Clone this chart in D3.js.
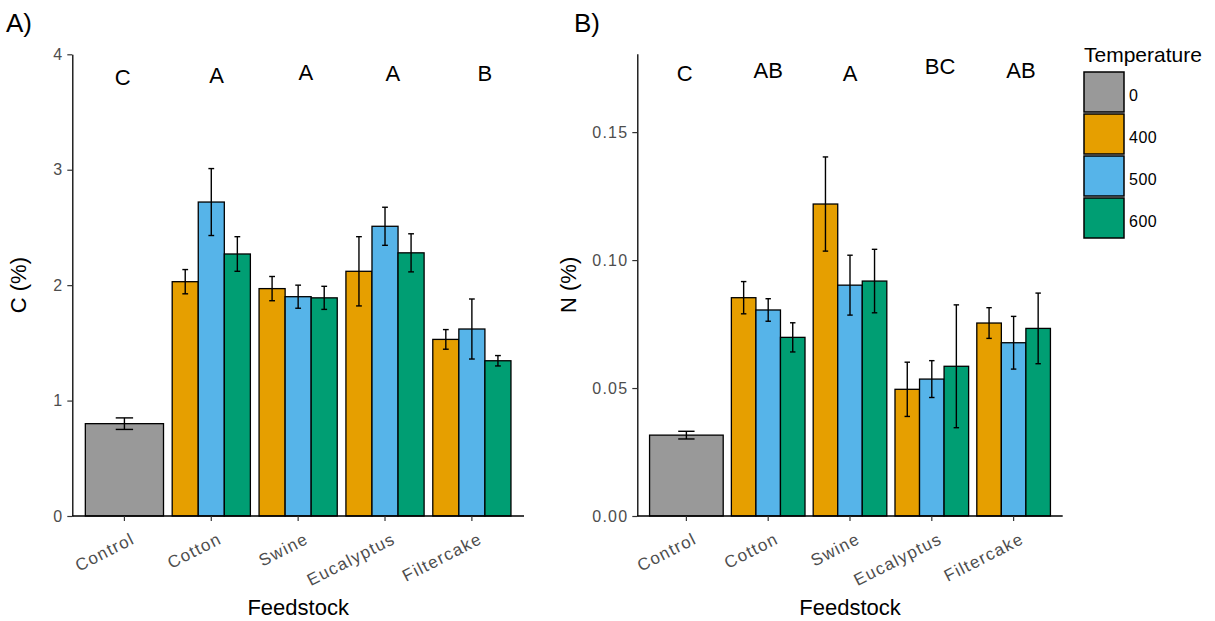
<!DOCTYPE html>
<html>
<head>
<meta charset="utf-8">
<script src="https://cdn.jsdelivr.net/npm/d3@7"></script>
<style>
  html, body { margin: 0; padding: 0; background: #fff; }
  svg { display: block; font-family: "Liberation Sans", Arial, sans-serif; }
</style>
</head>
<body>
<svg id="chart" width="1215" height="621"></svg>
<script>
// Feedstock categories and temperature groups
const feedstocks = ["Control", "Cotton", "Swine", "Eucalyptus", "Filtercake"];
const temperatures = ["0", "400", "500", "600"];

// One row per bar: feedstock, pyrolysis temperature
const rowFeedstock = ["Control",
  "Cotton", "Cotton", "Cotton",
  "Swine", "Swine", "Swine",
  "Eucalyptus", "Eucalyptus", "Eucalyptus",
  "Filtercake", "Filtercake", "Filtercake"];
const rowTemperature = ["0",
  "400", "500", "600",
  "400", "500", "600",
  "400", "500", "600",
  "400", "500", "600"];

// Carbon content (%) mean and standard error
const carbonMean = [0.80, 2.03, 2.72, 2.27, 1.97, 1.90, 1.89, 2.12, 2.51, 2.28, 1.53, 1.62, 1.345];
const carbonSE   = [0.05, 0.105, 0.29, 0.15, 0.105, 0.10, 0.10, 0.30, 0.165, 0.165, 0.085, 0.26, 0.045];

// Nitrogen content (%) mean and standard error
const nitrogenMean = [0.0316, 0.0853, 0.0805, 0.0698, 0.1219, 0.0902, 0.0918, 0.0495, 0.0535, 0.0585, 0.0754, 0.0677, 0.0733];
const nitrogenSE   = [0.0015, 0.0063, 0.0044, 0.0057, 0.0184, 0.0117, 0.0124, 0.0106, 0.0072, 0.0240, 0.0060, 0.0103, 0.0138];

// Compact letter display (Tukey groups) with their x positions on the category axis
const lettersC = ["C", "A", "A", "A", "B"];
const lettersCPos = [0.98, 2.06, 3.09, 4.09, 5.15];
const lettersCY = [3.80, 3.82, 3.84, 3.83, 3.83];
const lettersN = ["C", "AB", "A", "BC", "AB"];
const lettersNPos = [0.98, 2.0, 3.0, 4.1, 5.09];
const lettersNY = [0.1730, 0.1739, 0.1729, 0.1756, 0.1739];

// Axis ticks
const ticksC = [0, 1, 2, 3, 4];
const ticksN = [0, 0.05, 0.10, 0.15];

const fillColor = d3.scaleOrdinal()
  .domain(temperatures)
  .range(["#999999", "#E69F00", "#56B4E9", "#009E73"]);

const rows = rowFeedstock.map((f, i) => ({
  feedstock: f,
  temperature: rowTemperature[i],
  c: carbonMean[i], cse: carbonSE[i],
  n: nitrogenMean[i], nse: nitrogenSE[i]
}));

const svg = d3.select("#chart");
const TICK_GRAY = "#4d4d4d";

function drawPanel(opts) {
  const { left, right, top, bottom, yDomain, yTicks, yFormat, key, seKey,
          letters, letterPos, letterY, tag, tagX, yTitle, yTitleX } = opts;

  const x = d3.scaleBand()
    .domain(feedstocks)
    .range([left, right])
    .paddingInner(0)
    .paddingOuter(0.1);
  const step = x.step();

  const y = d3.scaleLinear().domain(yDomain).range([bottom, top]);

  const g = svg.append("g");

  // Bars, dodged within each feedstock
  const groupWidth = 0.9 * step;
  const layout = rows.map(r => {
    const members = rows.filter(o => o.feedstock === r.feedstock);
    const k = members.length;
    const j = members.indexOf(r);
    const w = groupWidth / k;
    const center = x(r.feedstock) + x.bandwidth() / 2;
    const x0 = center - groupWidth / 2 + j * w;
    return { r, x0, w, k };
  });

  g.selectAll("rect.bar")
    .data(layout)
    .join("rect")
    .attr("class", "bar")
    .attr("x", d => d.x0)
    .attr("width", d => d.w)
    .attr("y", d => y(d.r[key]))
    .attr("height", d => y(0) - y(d.r[key]))
    .attr("fill", d => fillColor(d.r.temperature))
    .attr("stroke", "#000")
    .attr("stroke-width", 1.3);

  // Error bars (mean ± SE)
  const eb = g.selectAll("g.err")
    .data(layout)
    .join("g")
    .attr("class", "err")
    .attr("stroke", "#000")
    .attr("stroke-width", 1.4)
    .attr("fill", "none");
  eb.each(function (d) {
    const cx = d.x0 + d.w / 2;
    const cap = 0.2 * step / d.k / 2;
    const yHi = y(d.r[key] + d.r[seKey]);
    const yLo = y(d.r[key] - d.r[seKey]);
    const s = d3.select(this);
    s.append("line").attr("x1", cx).attr("x2", cx).attr("y1", yHi).attr("y2", yLo);
    s.append("line").attr("x1", cx - cap).attr("x2", cx + cap).attr("y1", yHi).attr("y2", yHi);
    s.append("line").attr("x1", cx - cap).attr("x2", cx + cap).attr("y1", yLo).attr("y2", yLo);
  });

  // Y axis
  const yAxis = g.append("g")
    .attr("transform", `translate(${left},0)`)
    .call(d3.axisLeft(y).tickValues(yTicks).tickFormat(yFormat).tickSize(5).tickSizeOuter(0).tickPadding(4));
  yAxis.select(".domain").attr("stroke", "#000").attr("stroke-width", 1.3);
  yAxis.selectAll(".tick line").attr("stroke", "#333").attr("stroke-width", 1.2);
  yAxis.selectAll(".tick text")
    .attr("fill", TICK_GRAY)
    .style("font-size", "16px")
    .style("letter-spacing", "1.2px");

  // X axis
  const xAxis = g.append("g")
    .attr("transform", `translate(0,${bottom})`)
    .call(d3.axisBottom(x).tickSize(5).tickSizeOuter(0));
  xAxis.select(".domain")
    .attr("d", `M${left},0H${right}`)
    .attr("stroke", "#000").attr("stroke-width", 1.3);
  xAxis.selectAll(".tick line").attr("stroke", "#333").attr("stroke-width", 1.2);
  xAxis.selectAll(".tick text")
    .attr("fill", TICK_GRAY)
    .style("font-size", "17px")
    .style("letter-spacing", "1.3px")
    .attr("text-anchor", "end")
    .attr("dy", null)
    .attr("y", 0)
    .attr("dominant-baseline", "hanging")
    .attr("transform", "translate(6,16) rotate(-27)");

  // Tukey letters
  g.selectAll("text.letter")
    .data(letters)
    .join("text")
    .attr("class", "letter")
    .attr("x", (d, i) => x(feedstocks[0]) + x.bandwidth() / 2 + (letterPos[i] - 1) * step)
    .attr("y", (d, i) => y(letterY[i]))
    .attr("text-anchor", "middle")
    .attr("dominant-baseline", "central")
    .style("font-size", "22px")
    .attr("fill", "#000")
    .text(d => d);

  // Axis titles
  svg.append("text")
    .attr("x", (left + right) / 2)
    .attr("y", 615)
    .attr("text-anchor", "middle")
    .style("font-size", "22px")
    .attr("fill", "#000")
    .text("Feedstock");

  svg.append("text")
    .attr("transform", `translate(${yTitleX},${(top + bottom) / 2}) rotate(-90)`)
    .attr("text-anchor", "middle")
    .attr("dominant-baseline", "central")
    .style("font-size", "22px")
    .attr("fill", "#000")
    .text(yTitle);

  // Panel tag
  svg.append("text")
    .attr("x", tagX)
    .attr("y", 32)
    .style("font-size", "26px")
    .attr("fill", "#000")
    .text(tag);
}

drawPanel({
  left: 72.3, right: 524, top: 54.3, bottom: 516,
  yDomain: [0, 4], yTicks: ticksC, yFormat: d3.format("d"),
  key: "c", seKey: "cse",
  letters: lettersC, letterPos: lettersCPos, letterY: lettersCY,
  tag: "A)", tagX: 6, yTitle: "C (%)", yTitleX: 18
});

drawPanel({
  left: 637.3, right: 1062.7, top: 53.8, bottom: 516,
  yDomain: [0, 0.1806], yTicks: ticksN, yFormat: d3.format(".2f"),
  key: "n", seKey: "nse",
  letters: lettersN, letterPos: lettersNPos, letterY: lettersNY,
  tag: "B)", tagX: 574, yTitle: "N (%)", yTitleX: 568
});

// Legend
const legend = svg.append("g").attr("transform", "translate(1084,0)");
legend.append("text")
  .attr("x", 0)
  .attr("y", 62)
  .style("font-size", "21px")
  .attr("fill", "#000")
  .text("Temperature");

const keys = legend.selectAll("g.key")
  .data(temperatures)
  .join("g")
  .attr("class", "key")
  .attr("transform", (d, i) => `translate(0,${72 + i * 42})`);
keys.append("rect")
  .attr("width", 40)
  .attr("height", 40)
  .attr("fill", d => fillColor(d))
  .attr("stroke", "#000")
  .attr("stroke-width", 1.5);
keys.append("text")
  .attr("x", 45)
  .attr("y", 23)
  .attr("dominant-baseline", "central")
  .style("font-size", "16px")
  .style("letter-spacing", "0.5px")
  .attr("fill", "#000")
  .text(d => d);
</script>
</body>
</html>
